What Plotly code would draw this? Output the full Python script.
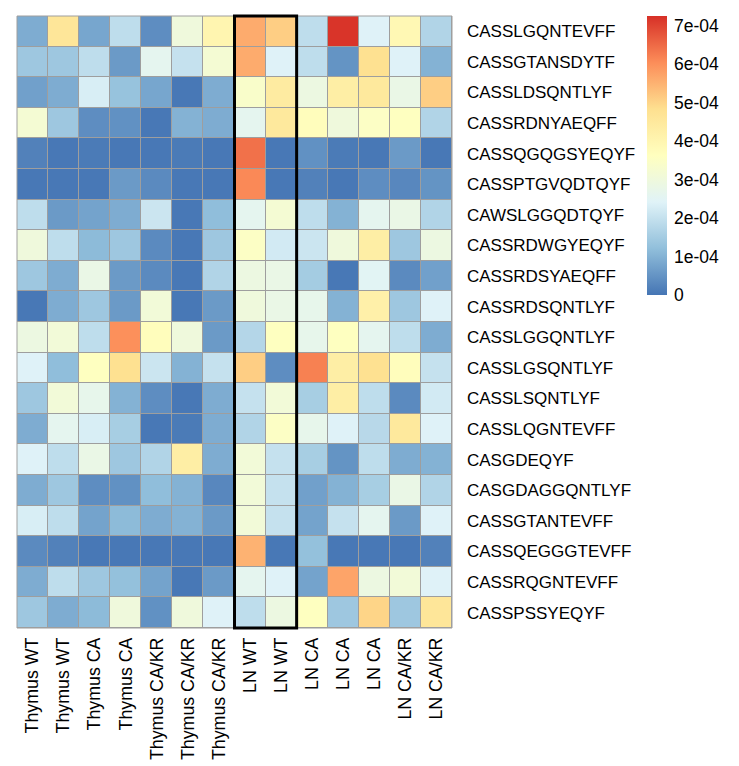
import plotly.graph_objects as go

samples = ["Thymus WT", "Thymus WT", "Thymus CA", "Thymus CA", "Thymus CA/KR", "Thymus CA/KR",
           "Thymus CA/KR", "LN WT", "LN WT", "LN CA", "LN CA", "LN CA", "LN CA/KR", "LN CA/KR"]
clonotypes = ["CASSLGQNTEVFF", "CASSGTANSDYTF", "CASSLDSQNTLYF", "CASSRDNYAEQFF",
              "CASSQGQGSYEQYF", "CASSPTGVQDTQYF", "CAWSLGGQDTQYF", "CASSRDWGYEQYF",
              "CASSRDSYAEQFF", "CASSRDSQNTLYF", "CASSLGGQNTLYF", "CASSLGSQNTLYF",
              "CASSLSQNTLYF", "CASSLQGNTEVFF", "CASGDEQYF", "CASGDAGGQNTLYF",
              "CASSGTANTEVFF", "CASSQEGGGTEVFF", "CASSRQGNTEVFF", "CASSPSSYEQYF"]

# frequencies in units of 1e-4
freq_e4 = [
    [0.9, 4.6, 0.8, 1.9, 0.4, 3.0, 4.0, 5.6, 5.1, 1.9, 7.2, 2.4, 3.9, 1.7],
    [1.4, 1.4, 1.9, 0.6, 2.6, 2.0, 3.2, 5.6, 2.4, 1.9, 0.5, 4.8, 2.4, 1.0],
    [0.7, 0.9, 2.3, 1.3, 0.8, 0.05, 0.9, 3.4, 4.4, 2.9, 4.3, 4.5, 2.8, 5.1],
    [3.2, 1.4, 0.4, 0.45, 0.05, 1.0, 0.9, 2.6, 4.5, 3.7, 3.0, 3.5, 3.6, 1.7],
    [0.2, 0.05, 0.1, 0.05, 0.05, 0.1, 0.05, 6.4, 0.05, 0.45, 0.1, 0.05, 0.6, 0.05],
    [0.05, 0.05, 0.05, 0.6, 0.35, 0.05, 0.05, 6.1, 0.05, 0.2, 0.05, 0.4, 0.3, 0.5],
    [1.9, 0.6, 0.75, 0.9, 2.1, 0.05, 1.2, 2.6, 3.2, 1.9, 1.0, 2.6, 2.8, 1.7],
    [3.0, 1.9, 1.15, 1.4, 0.35, 0.05, 1.4, 3.5, 2.2, 2.1, 3.0, 4.3, 1.4, 2.9],
    [1.4, 0.9, 2.8, 0.6, 0.35, 0.05, 1.7, 2.9, 2.8, 1.5, 0.05, 2.5, 0.35, 0.7],
    [0.05, 0.9, 1.4, 0.6, 3.1, 0.05, 0.6, 3.0, 2.8, 2.7, 1.0, 4.2, 1.4, 2.4],
    [2.9, 3.1, 1.9, 6.0, 3.7, 3.0, 0.6, 1.75, 3.6, 2.7, 3.6, 2.6, 1.9, 0.9],
    [2.4, 1.2, 3.6, 4.8, 2.1, 1.0, 2.0, 5.1, 0.4, 6.2, 4.3, 4.8, 3.7, 2.0],
    [1.4, 3.1, 2.7, 1.0, 0.4, 0.05, 0.9, 2.0, 3.1, 1.55, 4.3, 1.9, 0.35, 2.2],
    [0.9, 2.6, 2.3, 1.55, 0.05, 0.1, 0.9, 1.7, 3.5, 2.7, 2.4, 1.8, 4.5, 2.4],
    [2.4, 1.9, 2.8, 1.4, 1.7, 4.3, 0.9, 3.1, 2.0, 1.55, 0.5, 1.9, 0.9, 1.0],
    [0.9, 1.4, 0.4, 0.45, 1.2, 1.0, 0.3, 3.1, 2.0, 0.7, 1.0, 1.55, 2.8, 1.7],
    [2.3, 1.9, 0.75, 1.15, 0.9, 1.0, 0.6, 3.1, 2.0, 0.75, 2.0, 2.6, 0.6, 2.4],
    [0.35, 0.2, 0.05, 0.05, 0.05, 0.05, 0.05, 5.5, 0.05, 1.25, 0.05, 0.05, 0.05, 0.2],
    [0.9, 1.9, 1.4, 1.25, 0.75, 0.05, 0.6, 2.6, 2.4, 0.75, 5.7, 2.9, 3.1, 2.4],
    [1.4, 0.9, 1.15, 3.0, 0.45, 3.0, 2.4, 1.9, 2.9, 3.6, 1.4, 5.0, 1.4, 4.6],
]

cbar_vals = [0, 1e-4, 2e-4, 3e-4, 4e-4, 5e-4, 6e-4, 7e-4]
cbar_text = ["0", "1e-04", "2e-04", "3e-04", "4e-04", "5e-04", "6e-04", "7e-04"]
zmax = 7.25e-4

palette = ["#4575B4", "#91BFDB", "#E0F3F8", "#FFFFBF", "#FEE090", "#FC8D59", "#D73027"]
colorscale = [[i / (len(palette) - 1), c] for i, c in enumerate(palette)]

z = [[v * 1e-4 for v in row] for row in freq_e4]
xs = list(range(len(samples)))
ys = list(range(len(clonotypes)))

W, H = 739, 766
ml, mr, mt, mb = 17, 287, 16, 138
pw, ph = W - ml - mr, H - mt - mb

FONT = "Liberation Sans, Arial"

fig = go.Figure(go.Heatmap(
    z=z, x=xs, y=ys, zmin=0, zmax=zmax, colorscale=colorscale,
    xgap=1, ygap=1, hoverongaps=False,
    colorbar=dict(
        x=(647 - ml) / pw, xanchor="left", xpad=0,
        y=1.0, yanchor="top", ypad=0,
        len=279, lenmode="pixels", thickness=20, thicknessmode="pixels",
        outlinewidth=0, ticks="outside", ticklen=4, tickcolor="rgba(0,0,0,0)",
        tickvals=cbar_vals, ticktext=cbar_text,
        tickfont=dict(family=FONT, size=17.5, color="black"),
    ),
))

fig.add_shape(type="rect", xref="paper", yref="paper", x0=0, x1=1, y0=0, y1=1,
              line=dict(color="#9E9E9E", width=1), fillcolor="rgba(0,0,0,0)")
fig.add_shape(type="rect", xref="x", yref="paper", x0=6.5, x1=8.5, y0=0, y1=1,
              line=dict(color="black", width=3), fillcolor="rgba(0,0,0,0)")

fig.update_layout(
    width=W, height=H,
    margin=dict(l=ml, r=mr, t=mt, b=mb, pad=0),
    paper_bgcolor="white", plot_bgcolor="#9E9E9E",
    font=dict(family=FONT, size=17, color="black"),
    xaxis=dict(tickmode="array", tickvals=xs, ticktext=samples, tickangle=-90,
               showgrid=False, zeroline=False, ticks="", ticklabelstandoff=5,
               automargin=False, range=[-0.5, len(samples) - 0.5],
               tickfont=dict(family=FONT, size=17.8, color="black")),
    yaxis=dict(tickmode="array", tickvals=ys, ticktext=clonotypes, side="right",
               autorange=False, range=[len(clonotypes) - 0.5, -0.5], automargin=False,
               showgrid=False, zeroline=False, ticks="", ticklabelstandoff=14,
               tickfont=dict(family=FONT, size=17, color="black")),
)

fig.write_html("out.html")
